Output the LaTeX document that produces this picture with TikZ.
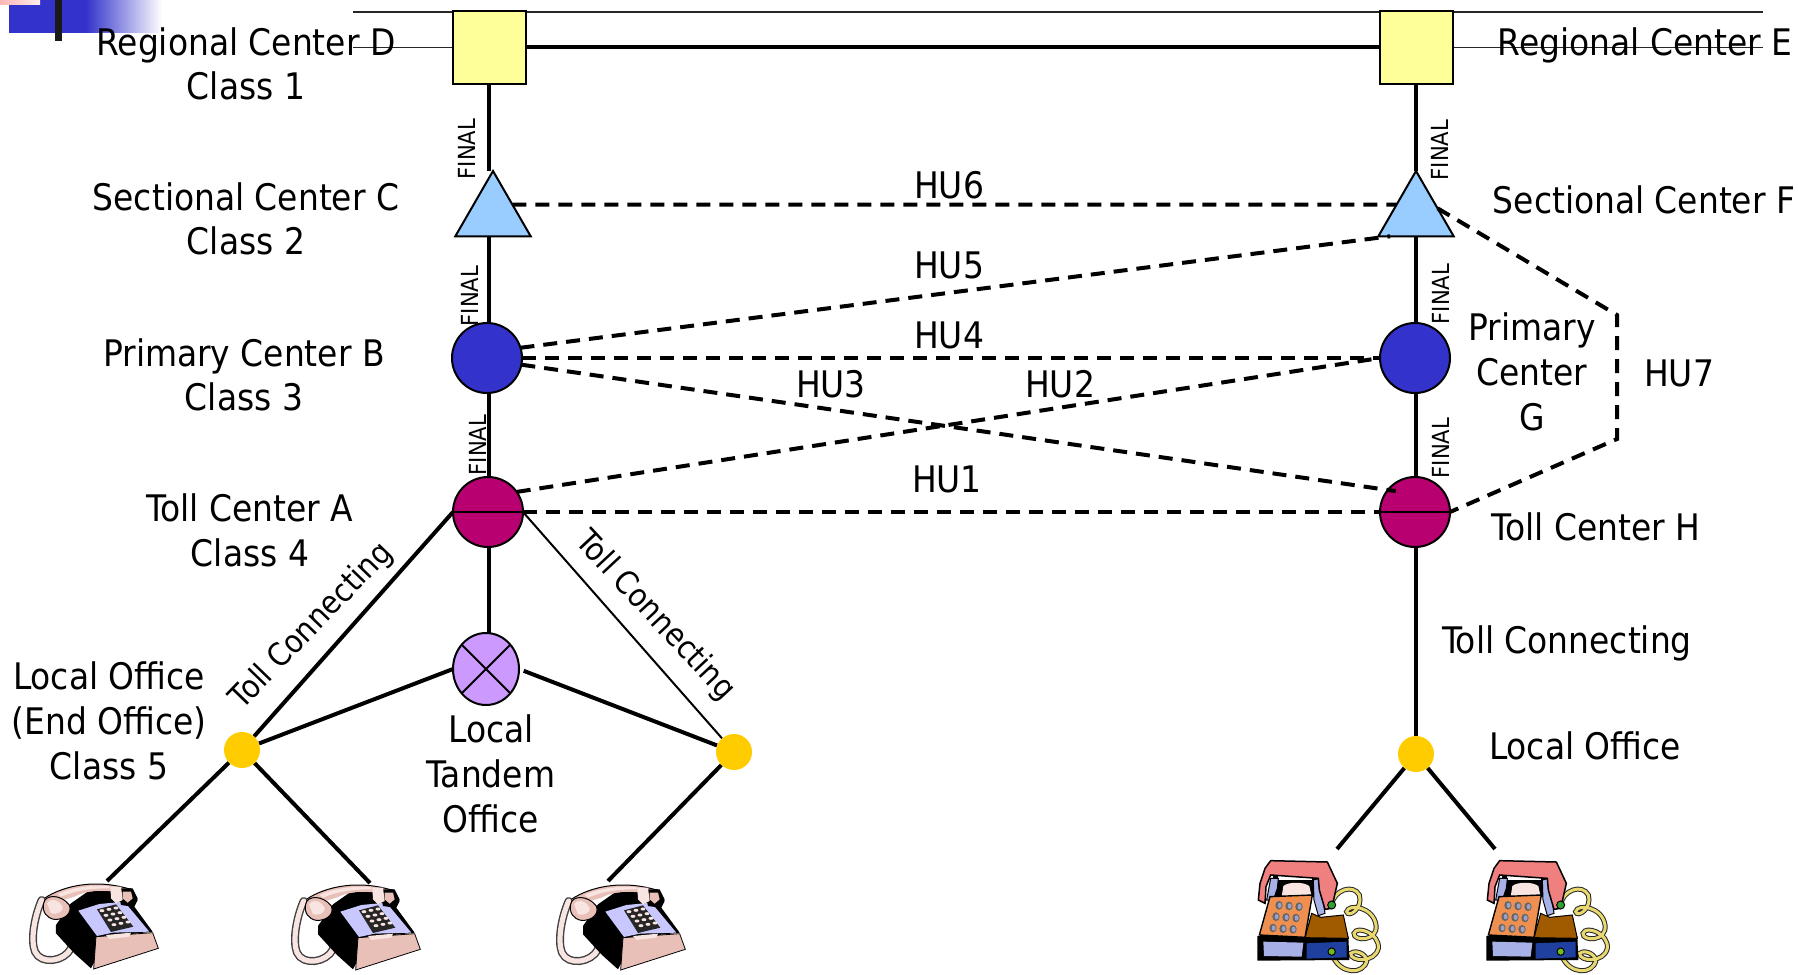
\documentclass[tikz,border=0pt]{standalone}
\usepackage{fontspec}
\setmainfont{DejaVu Sans Condensed}
\usetikzlibrary{backgrounds,shapes.geometric}
\definecolor{sq}{HTML}{FFFF99}
\definecolor{tri}{HTML}{99CCFF}
\definecolor{prim}{HTML}{3333CC}
\definecolor{toll}{HTML}{B80070}
\definecolor{tand}{HTML}{CC99FF}
\definecolor{yel}{HTML}{FFCC00}
\definecolor{pinkb}{HTML}{E8C0B8}
\definecolor{pinkl}{HTML}{F8E4E0}
\definecolor{bluef}{HTML}{C8C8FF}
\definecolor{salmon}{HTML}{F08080}
\definecolor{orng}{HTML}{F09050}
\definecolor{brwn}{HTML}{A05A00}
\definecolor{peri}{HTML}{A8B0E8}
\definecolor{navy2}{HTML}{2040A0}
\definecolor{cordy}{HTML}{E8D870}
\definecolor{grn}{HTML}{30A030}
\tikzset{
  x=1pt,y=-1pt,
  txt/.style={inner sep=0pt,align=center,font=\fontsize{36.6}{44.7}\selectfont},
  rtxt/.style={inner sep=0pt,align=center,font=\fontsize{31.8}{40}\selectfont},
  finaltxt/.style={inner sep=0pt,rotate=90,font=\fontsize{23.5}{26}\selectfont},
  shapeb/.style={draw=black,line width=2pt,inner sep=0pt,outer sep=0pt},
  circ/.style={shapeb,circle,minimum size=70pt},
  thickl/.style={line width=4pt,black},
  thinl/.style={line width=2pt,black},
  hair/.style={line width=1.2pt,black!85},
  dashl/.style={line width=4pt,black,dash pattern=on 14pt off 9pt},
  pics/deskphone/.style={code={
    \begin{scope}[x=0.3333pt,y=-0.3333pt]
      \def\cordpath{(62,90) .. controls (40,140) and (28,210) .. (42,245) .. controls (60,285) and (130,275) .. (150,235) .. controls (155,215) and (150,200) .. (145,190)}
      \draw[black!75,line width=8pt,line cap=round] \cordpath;
      \draw[pinkl,line width=5.2pt,line cap=round] \cordpath;
      \fill[black] (105,165)--(150,100)--(200,65)--(330,55)--(350,90)--(340,110)--(395,185)--(260,200)--(210,295)--(160,250)--(105,190)--cycle;
      \fill[pinkb,draw=black,line width=.8pt] (225,200)--(395,188)--(412,235)--(218,297)--cycle;
      \fill[bluef] (172,122)--(235,102)--(310,95)--(385,185)--(275,188)--(228,198)--cycle;
      \fill[pinkl] (255,195)--(330,188)--(325,200)--(265,207)--cycle;
      \fill[black!85] (228,118)--(285,103)--(337,170)--(270,186)--cycle;
      \foreach \r in {0,1,2,3}{\foreach \c in {0,1,2}{
        \fill[pinkl] ({243+\c*21+\r*12},{122-\c*4+\r*14}) ellipse (7.5 and 4.5);}}
      \fill[pinkb] (70,85) .. controls (130,45) and (230,25) .. (335,60) -- (330,75) .. controls (250,55) and (200,60) .. (160,80) -- (110,95) -- cycle;
      \draw[black,line width=1pt] (70,85) .. controls (130,45) and (230,25) .. (335,60);
      \fill[pinkl] (110,72) .. controls (150,52) and (210,45) .. (265,48) -- (265,55) .. controls (210,55) and (160,62) .. (120,80) -- cycle;
      \fill[pinkb,draw=black,line width=1pt] (68,100) .. controls (72,72) and (120,72) .. (145,105) .. controls (155,130) and (130,150) .. (100,148) .. controls (78,145) and (62,125) .. (68,100) -- cycle;
      \fill[pinkl] (78,100) .. controls (85,85) and (110,85) .. (125,110) .. controls (130,125) and (105,135) .. (90,130) -- cycle;
      \fill[black] (290,55)--(335,55)--(350,85)--(335,110)--(300,105)--cycle;
      \fill[pinkb] (305,65)--(330,65)--(335,85)--(320,98)--(305,85)--cycle;
      \fill[pinkl] (268,50)--(300,50)--(305,90)--(285,100)--(270,85)--cycle;
    \end{scope}}},
  pics/colorphone/.style={code={
    \begin{scope}[x=0.3333pt,y=-0.3333pt]
      \def\cordpath{(245,165) .. controls (250,120) and (310,100) .. (328,135) .. controls (340,175) and (295,205) .. (290,185) .. controls (295,160) and (370,170) .. (378,225) .. controls (385,275) and (310,275) .. (312,250) .. controls (320,225) and (390,250) .. (385,295) .. controls (375,340) and (300,335) .. (302,310) .. controls (320,295) and (365,320) .. (345,345) .. controls (320,380) and (255,360) .. (245,305)}
      \draw[black!85,line width=5pt,line cap=round] \cordpath;
      \draw[cordy,line width=3pt,line cap=round] \cordpath;
      \fill[black] (22,258)--(295,258)--(298,330)--(22,332)--cycle;
      \fill[peri] (40,275)--(160,278)--(155,320)--(42,318)--cycle;
      \fill[navy2] (170,280)--(290,275)--(290,322)--(170,326)--cycle;
      \fill[black] (70,60) rectangle (205,140);
      \fill[white] (85,72) rectangle (185,90);
      \fill[pinkl] (100,108) .. controls (115,95) and (160,95) .. (178,108) -- (185,140) -- (95,140) -- cycle;
      \fill[peri,draw=black,line width=1pt] (62,85)--(85,85)--(82,115)--(70,150)--(50,150)--cycle;
      \fill[brwn,draw=black,line width=1pt] (185,190)--(212,202)--(280,195)--(295,265)--(165,263)--cycle;
      \fill[peri,draw=black,line width=1pt] (190,90)--(210,85)--(225,190)--(205,197)--(192,150)--cycle;
      \fill[orng,draw=black,line width=1.4pt] (60,140)--(187,135)--(165,262)--(28,255)--cycle;
      \foreach \r in {0,1,2}{\foreach \c in {0,1,2}{
        \fill[black!60] ({87+\c*30-\r*9},{166+\r*34+\c*2}) ellipse (11 and 13);
        \fill[peri!70!gray] ({89+\c*30-\r*9},{166+\r*34+\c*2}) ellipse (6 and 8);}}
      \fill[salmon,draw=black,line width=1.5pt] (25,150)--(30,100)--(45,55)--(62,32)--(232,36)--(262,100)--(245,175)--(225,178)--(208,120)--(205,85)--(62,75)--(48,110)--(45,160)--cycle;
      \fill[grn,draw=black,line width=1pt] (245,165) circle (12);
      \fill[grn!70!yellow,draw=black,line width=1pt] (245,305) circle (11);
    \end{scope}}}
}
\begin{document}
\begin{tikzpicture}
\useasboundingbox (0,0) rectangle (1798,974);
% banner
\fill[prim] (9,0) rectangle (86,33);
\shade[left color=prim,right color=white] (86,0) rectangle (162,33);
\shade[left color=pink!70!red!60,right color=pink!30] (0,0) rectangle (40,5);
\fill[black!90] (55,0) rectangle (62,41);
% nodes
\node[shapeb,rectangle,fill=sq,minimum width=73pt,minimum height=72pt] (D) at (489,47.5) {};
\node[shapeb,rectangle,fill=sq,minimum width=73pt,minimum height=72pt] (E) at (1416,47.5) {};
\node[shapeb,regular polygon,regular polygon sides=3,fill=tri,minimum size=87pt] (C) at (493,214.5) {};
\node[shapeb,regular polygon,regular polygon sides=3,fill=tri,minimum size=87pt] (F) at (1416,214.5) {};
\node[circ,fill=prim] (B) at (487,358) {};
\node[circ,fill=prim] (G) at (1415,358) {};
\node[circ,fill=toll] (A) at (488,512) {};
\node[circ,fill=toll] (H) at (1415,512) {};
\node[shapeb,ellipse,fill=tand,minimum width=66pt,minimum height=72pt] (T) at (486,669) {};
\draw[thinl] (T.45) -- (T.225) (T.135) -- (T.315);
\draw[thinl] (A.west) -- (A.east) (H.west) -- (H.east);
\node[circle,fill=yel,minimum size=36pt,inner sep=0pt] (Y1) at (242,750) {};
\node[circle,fill=yel,minimum size=36pt,inner sep=0pt] (Y2) at (734,752) {};
\node[circle,fill=yel,minimum size=36pt,inner sep=0pt] (Y3) at (1416,754) {};
% phones
\pic at (21,870) {deskphone};
\pic at (283,871) {deskphone};
\pic at (548,871) {deskphone};
\pic at (1250,850) {colorphone};
\pic at (1479,850) {colorphone};
% free ends
\coordinate (P1) at (107,881);
\coordinate (P2) at (370,883);
\coordinate (P3) at (608,881);
\coordinate (P4) at (1337,849);
\coordinate (P5) at (1495,849);
\coordinate (RL) at (353,47.5);
\coordinate (RR) at (1763,47.5);
\coordinate (TL) at (353,12);
\coordinate (TR) at (1763,12);
\coordinate (V1) at (1617,315);
\coordinate (V2) at (1617,439);
% labels
\node[txt] (t1) at (246,64) {Regional Center D\\Class 1};
\node[txt] (t2) at (246,219) {Sectional Center C\\Class 2};
\node[txt] (t3) at (244,375) {Primary Center B\\Class 3};
\node[txt] (t4) at (250,530) {Toll Center A\\Class 4};
\node[txt] (t5) at (109,721) {Local Office\\(End Office)\\Class 5};
\node[txt] (t6) at (491,774) {Local\\Tandem\\Office};
\node[txt] (t7) at (1645,45) {Regional Center E};
\node[txt] (t8) at (1644,200) {Sectional Center F};
\node[txt] (t9) at (1532,372) {Primary\\Center\\G};
\node[txt] (t10) at (1596,527) {Toll Center H};
\node[txt] (t11) at (1567,643) {Toll Connecting};
\node[txt] (t12) at (1585,746) {Local Office};
\node[rtxt,rotate=46] (t13) at (312,626) {Toll Connecting};
\node[rtxt,rotate=-47] (t14) at (655,616) {Toll Connecting};
\node[txt] (h6) at (949,185) {HU6};
\node[txt] (h5) at (949,265) {HU5};
\node[txt] (h4) at (949,335) {HU4};
\node[txt] (h3) at (831,384) {HU3};
\node[txt] (h2) at (1060,384) {HU2};
\node[txt] (h1) at (947,479) {HU1};
\node[txt] (h7) at (1679,373) {HU7};
\node[finaltxt] (f1) at (467,149) {FINAL};
\node[finaltxt] (f2) at (470,296) {FINAL};
\node[finaltxt] (f3) at (478,445) {FINAL};
\node[finaltxt] (f4) at (1440,150) {FINAL};
\node[finaltxt] (f5) at (1441,294) {FINAL};
\node[finaltxt] (f6) at (1441,448) {FINAL};
% connectors
\begin{scope}[on background layer]
\draw[hair] (TL) -- (TR);
\draw[hair] (RL) -- (D.west);
\draw[hair] (E.east) -- (RR);
\draw[thickl] (D.east) -- (E.west);
\draw[thickl] (D.south) -- (D.south |- C.north);
\draw[thickl] (D.south |- C.south) -- (D.south |- B.north);
\draw[thickl] (D.south |- B.south) -- (D.south |- A.north);
\draw[thickl] (D.south |- A.south) -- (D.south |- T.north);
\draw[thickl] (E.south) -- (F.north);
\draw[thickl] (F.south) -- (E.south |- G.north);
\draw[thickl] (E.south |- G.south) -- (E.south |- H.north);
\draw[thickl] (E.south |- H.south) -- (Y3);
\draw[thickl] (A.west) -- (Y1);
\draw[thinl] (A.east) -- (Y2);
\draw[thickl] (T.west) -- (Y1);
\draw[thickl,shorten <=5pt] (T.east) -- (Y2);
\draw[thickl] (Y1) -- (P1);
\draw[thickl] (Y1) -- (P2);
\draw[thickl] (Y2) -- (P3);
\draw[thickl] (Y3) -- (P4);
\draw[thickl] (Y3) -- (P5);
\end{scope}
\draw[dashl] (C.27) -- (F.153);
\draw[dashl] (B.17) -- (F.220);
\draw[dashl] (B.east) -- (G.west);
\draw[dashl,shorten >=-8pt] (B.-11) -- (H.141);
\draw[dashl] (A.35) -- (G.west);
\draw[dashl] (A.east) -- (H.west);
\draw[dashl] (F.16) -- (V1) -- (V2) -- (H.east);
\end{tikzpicture}
\end{document}
